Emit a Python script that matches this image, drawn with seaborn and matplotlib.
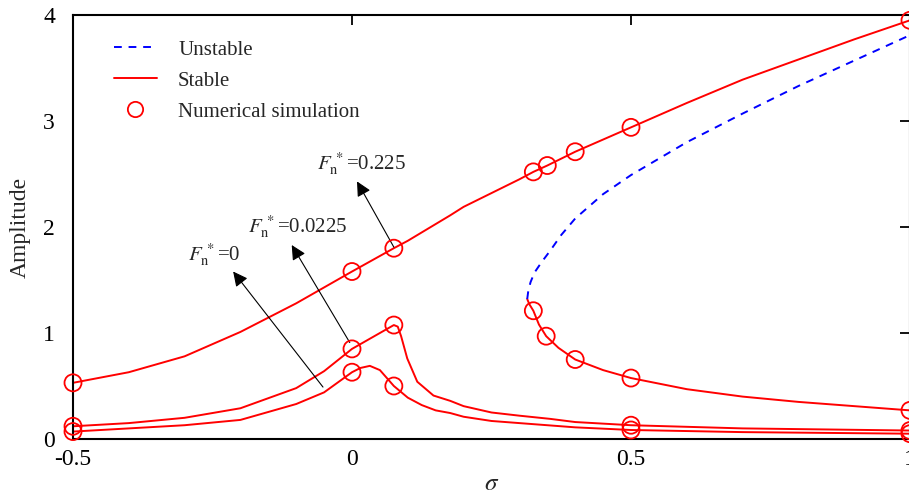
import numpy as np
import pandas as pd
import matplotlib
matplotlib.use("Agg")
import matplotlib.pyplot as plt
import seaborn as sns
from matplotlib.lines import Line2D

# ---------------- data ----------------
# F_n* = 0
sigma_f0 = [-0.5, -0.4, -0.3, -0.2, -0.1, -0.05, 0.0, 0.015, 0.032, 0.05, 0.075,
            0.1, 0.125, 0.15, 0.176, 0.2, 0.25, 0.3, 0.4, 0.5, 0.7, 1.0]
amp_f0 = [0.07, 0.10, 0.13, 0.18, 0.33, 0.44, 0.63, 0.67, 0.69, 0.65, 0.50,
          0.39, 0.32, 0.27, 0.245, 0.21, 0.17, 0.15, 0.11, 0.085, 0.065, 0.05]

# F_n* = 0.0225
sigma_f1 = [-0.5, -0.4, -0.3, -0.2, -0.1, -0.05, 0.0, 0.04, 0.075, 0.082, 0.088,
            0.099, 0.117, 0.146, 0.176, 0.2, 0.25, 0.3, 0.355, 0.4, 0.5, 0.7, 1.0]
amp_f1 = [0.12, 0.15, 0.20, 0.29, 0.48, 0.64, 0.85, 0.97, 1.075, 1.06, 0.97,
          0.76, 0.54, 0.41, 0.36, 0.31, 0.25, 0.22, 0.19, 0.16, 0.13, 0.10, 0.08]

# F_n* = 0.225, upper stable branch
sigma_f2u = [-0.5, -0.4, -0.3, -0.2, -0.1, 0.0, 0.075, 0.1, 0.176, 0.2, 0.3,
             0.325, 0.35, 0.4, 0.5, 0.6, 0.7, 0.8, 0.9, 1.0]
amp_f2u = [0.53, 0.63, 0.78, 1.01, 1.28, 1.58, 1.80, 1.87, 2.11, 2.19, 2.45,
           2.52, 2.58, 2.71, 2.94, 3.17, 3.39, 3.58, 3.77, 3.95]

# F_n* = 0.225, lower stable branch
sigma_f2l = [0.314, 0.318, 0.325, 0.335, 0.348, 0.37, 0.4, 0.45, 0.5, 0.6, 0.7,
             0.8, 0.9, 1.0]
amp_f2l = [1.32, 1.27, 1.21, 1.08, 0.97, 0.86, 0.75, 0.65, 0.575, 0.47, 0.40,
           0.35, 0.31, 0.27]

# F_n* = 0.225, unstable branch
sigma_f2s = [0.314, 0.316, 0.32, 0.327, 0.34, 0.355, 0.375, 0.4, 0.45, 0.5,
             0.6, 0.7, 0.8, 0.9, 1.0]
amp_f2s = [1.32, 1.40, 1.48, 1.57, 1.67, 1.775, 1.925, 2.08, 2.31, 2.49,
           2.80, 3.07, 3.33, 3.57, 3.81]

# numerical simulation points
sim_sigma = [-0.5, 0.0, 0.075, 0.5, 1.0,
             -0.5, 0.0, 0.075, 0.5, 1.0,
             -0.5, 0.0, 0.075, 0.325, 0.35, 0.4, 0.5, 1.0,
             0.325, 0.348, 0.4, 0.5, 1.0]
sim_amp = [0.07, 0.63, 0.50, 0.085, 0.05,
           0.12, 0.85, 1.075, 0.13, 0.08,
           0.53, 1.58, 1.80, 2.52, 2.58, 2.71, 2.94, 3.95,
           1.21, 0.97, 0.75, 0.575, 0.27]

x_ticks = [-0.5, 0, 0.5, 1]
x_tick_labels = ["-0.5", "0", "0.5", "1"]
y_ticks = [0, 1, 2, 3, 4]
y_tick_labels = ["0", "1", "2", "3", "4"]

legend_labels = ["Unstable", "Stable", "Numerical simulation"]
annot_labels = [r"$F_{\mathrm{n}}^{\,*}$=0.225", r"$F_{\mathrm{n}}^{\,*}$=0.0225", r"$F_{\mathrm{n}}^{\,*}$=0"]

# ---------------- plotting ----------------
sns.set_theme(style="white")
plt.rcParams["font.family"] = ["Liberation Serif", "DejaVu Serif"]
plt.rcParams["mathtext.fontset"] = "stix"

W, H = 909, 498
fig = plt.figure(figsize=(W / 100, H / 100), dpi=100)
ax = fig.add_axes([73 / W, (H - 439) / H, (910 - 73) / W, (439 - 15) / H])

red = "#ff0000"
blue = "#0000ff"
lw = 1.4

for xs, ys in [(sigma_f0, amp_f0), (sigma_f1, amp_f1), (sigma_f2u, amp_f2u), (sigma_f2l, amp_f2l)]:
    sns.lineplot(x=xs, y=ys, sort=False, estimator=None, color=red, lw=lw, ax=ax)

sns.lineplot(x=sigma_f2s, y=amp_f2s, sort=False, estimator=None, color=blue, lw=lw,
             ax=ax, dashes=False, linestyle=(0, (4, 3.5)))

sns.scatterplot(x=sim_sigma, y=sim_amp, marker="o", s=150, color=red,
                facecolor="none", edgecolor=red, linewidth=1.3, ax=ax, clip_on=False, zorder=5)

ax.set_xlim(-0.5, 1.0)
ax.set_ylim(0, 4)
ax.set_xticks(x_ticks)
ax.set_xticklabels(x_tick_labels)
ax.set_yticks(y_ticks)
ax.set_yticklabels(y_tick_labels)
ax.tick_params(direction="in", length=7, width=1.3, top=True, right=True,
               labelsize=17, pad=7, colors="black")
ax.tick_params(axis="y", pad=13)
for sp in ax.spines.values():
    sp.set_linewidth(1.5)
    sp.set_color("black")

ax.set_xlabel(r"$\sigma$", fontsize=18, labelpad=2)
ax.set_ylabel("Amplitude", fontsize=17, labelpad=9)

# legend
handles = [Line2D([], [], color=blue, lw=lw, linestyle=(0, (4, 3.5))),
           Line2D([], [], color=red, lw=lw),
           Line2D([], [], color=red, marker="o", linestyle="none", markersize=11,
                  markerfacecolor="none", markeredgewidth=1.3)]
ax.legend(handles, legend_labels, loc="upper left", bbox_to_anchor=(0.026, 0.985),
          frameon=False, fontsize=15, handlelength=2.1, handletextpad=1.0,
          labelspacing=0.55)

# annotations
arrow_kw = dict(arrowstyle="-|>", color="black", lw=0.8, mutation_scale=22,
                shrinkA=0, shrinkB=0)
ax.annotate("", xy=(0.009, 2.43), xytext=(0.075, 1.81), arrowprops=arrow_kw)
ax.annotate("", xy=(-0.108, 1.83), xytext=(-0.004, 0.91), arrowprops=arrow_kw)
ax.annotate("", xy=(-0.213, 1.58), xytext=(-0.052, 0.49), arrowprops=arrow_kw)

ax.text(-0.063, 2.60, annot_labels[0], fontsize=15, ha="left", va="center")
ax.text(-0.186, 2.00, annot_labels[1], fontsize=15, ha="left", va="center")
ax.text(-0.294, 1.74, annot_labels[2], fontsize=15, ha="left", va="center")

fig.savefig("out.png", dpi=100)
